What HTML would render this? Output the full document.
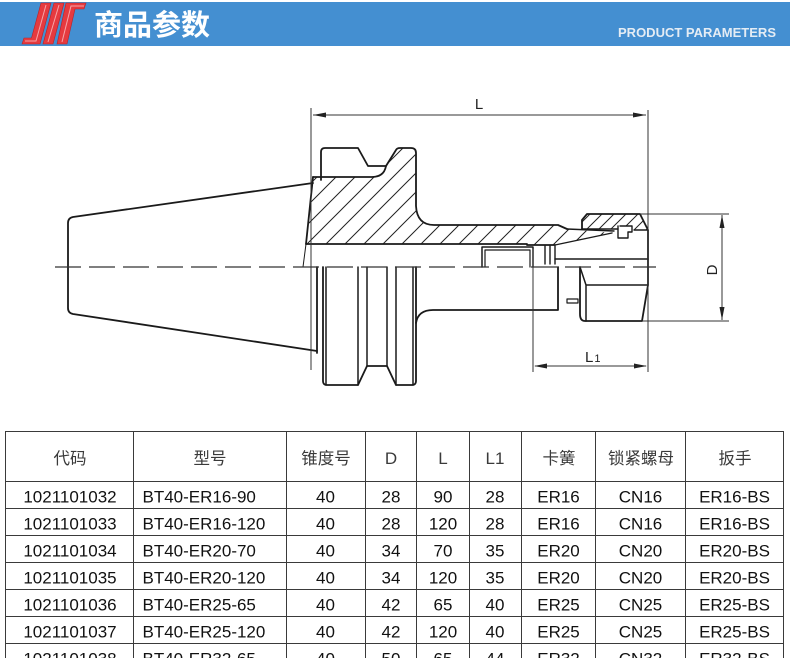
<!DOCTYPE html>
<html><head><meta charset="utf-8">
<style>
html,body{margin:0;padding:0;background:#fff;width:790px;height:658px;overflow:hidden;}
svg{display:block;}
</style></head><body>
<svg width="790" height="658" viewBox="0 0 790 658" xmlns="http://www.w3.org/2000/svg">
<defs>
<pattern id="h" patternUnits="userSpaceOnUse" width="19" height="19">
<path d="M-2,21 L21,-2 M-2,2 L2,-2 M17,21 L21,17" stroke="#222" stroke-width="1"/>
</pattern>
<pattern id="h2" patternUnits="userSpaceOnUse" width="12" height="12">
<path d="M-2,14 L14,-2 M-2,2 L2,-2 M10,14 L14,10" stroke="#222" stroke-width="1"/>
</pattern>
</defs>

<!-- header -->
<rect x="0" y="2" width="790" height="44" fill="#448FD1"/>
<g fill="#E63A3F" stroke="#B82228" stroke-width="0.6">
<polygon points="41,3 51,3 40,44 22,44 24,38 31.5,38"/>
<polygon points="54,3 64,3 53,44 43,44"/>
<polygon points="66,3 86,3 84,9 75,9 67,44 57,44"/>
</g>
<g fill="none" stroke="#F6A5A8" stroke-width="1">
<polyline points="46,5 36,41 25,41"/>
<polyline points="59,5 48,42"/>
<polyline points="84,6 71,6 62,42"/>
</g>
<text x="94" y="35" font-family="'Noto Sans CJK SC','WenQuanYi Zen Hei',sans-serif" font-size="29" font-weight="bold" fill="#ffffff">商品参数</text>
<text x="618" y="37" font-family="'Liberation Sans',sans-serif" font-size="12.5" font-weight="bold" fill="#E4ECF4" textLength="158" lengthAdjust="spacingAndGlyphs">PRODUCT PARAMETERS</text>

<!-- drawing -->
<g fill="none" stroke="#1a1a1a" stroke-width="1.8" stroke-linejoin="round" stroke-linecap="round">
<path d="M313,177 H372 Q384,177 386,166 L396,150 Q397,148 400,148 H411 Q416,148 416,153 V206 Q417,225 434,225 H558 L567,229 L612,233 L555,245 H527 V244 H306 Z" fill="url(#h)" stroke="none"/>
<path d="M582,229 V220 L587,214 H640 L648,230 H634 V226 H620 V229 Z" fill="url(#h2)" stroke="none"/>

<!-- taper -->
<path d="M313,183 L73,217 Q68,218 68,223 L68,308 Q68,313 73,314 L317,351"/>
<path d="M313,177 L306,244" />
<path d="M306,244 L303,267" stroke-width="1"/>
<path d="M317,267 V353"/>

<!-- flange upper -->
<path d="M321,180 V152 Q321,148 325,148 H358 L368,166 H386 L396,150 Q397,148 400,148 H411 Q416,148 416,153 V206 Q417,225 434,225 H558 L567,229"/>
<path d="M313,177 H372 Q384,177 386,166"/>
<path d="M306,244 H527 V245 H555"/>

<!-- flange lower -->
<path d="M323,267 V381 Q323,385 327,385 H358 L367,366 H387 L396,385 H412 Q416,385 416,381 V267"/>
<path d="M326,267 V385 M358,267 V385 M367,267 V366 M387,267 V366 M396,267 V385 M413,267 V385" stroke-width="1.5"/>
<path d="M416,323 Q418,310 433,310 H558 V267"/>

<!-- stop screw -->
<path d="M482,267 V247 H533 V267" stroke-width="1.5"/>
<path d="M485,267 V250 H530 V267" stroke-width="1.2"/>
<path d="M545,246 V264 M550,246 V264 M555,246 V264" stroke-width="1.4"/>

<!-- collet -->
<path d="M555,245 L612,233" stroke-width="1.4"/>
<path d="M567,229 L614,231" stroke-width="1.4"/>
<path d="M555,259 H648" stroke-width="1.5"/>
<rect x="567" y="299" width="11" height="4" stroke-width="1.2"/>

<!-- nut -->
<path d="M582,229 V220 L587,214 H640 L648,230 V285 L642,321 H585 Q580,321 580,314 V267"/>
<path d="M582,229 H618 M634,230 H648" stroke-width="1.4"/>
<path d="M618,226 V238 H628 V232 H632 V226 H620" stroke-width="1.4"/>
<path d="M580,267 L586,285 V321 M586,285 H648" stroke-width="1.5"/>
</g>

<!-- centerline -->
<line x1="55" y1="267" x2="656" y2="267" stroke="#333" stroke-width="1.2" stroke-dasharray="26 8"/>

<!-- dimensions -->
<g stroke="#333" stroke-width="1" fill="none">
<path d="M311,108 V370"/>
<path d="M648,110 V372"/>
<path d="M313,115 H646"/>
<path d="M640,214 H729 M642,321 H729"/>
<path d="M722,215 V320"/>
<path d="M533,249 V372"/>
<path d="M535,366 H646"/>
</g>
<g fill="#222">
<polygon points="313,115 326,112.5 326,117.5"/>
<polygon points="646,115 633,112.5 633,117.5"/>
<polygon points="722,215 719.5,228 724.5,228"/>
<polygon points="722,320 719.5,307 724.5,307"/>
<polygon points="534,366 547,363.5 547,368.5"/>
<polygon points="647,366 634,363.5 634,368.5"/>
</g>
<g font-family="'Liberation Sans',sans-serif" fill="#222">
<text x="479" y="109" font-size="15" text-anchor="middle">L</text>
<text transform="translate(717,270) rotate(-90)" font-size="15" text-anchor="middle">D</text>
<text x="585" y="362" font-size="15">L<tspan font-size="11" dx="1">1</tspan></text>
</g>

<!-- table lines -->
<g stroke="#3a3a3a" stroke-width="1" fill="none">
<path d="M5,431.5 H784 M5,481.5 H784 M5,508.5 H784 M5,535.5 H784 M5,562.5 H784 M5,589.5 H784 M5,616.5 H784 M5,643.5 H784"/>
<path d="M5.5,431 V658 M133.5,431 V658 M286.5,431 V658 M365.5,431 V658 M416.5,431 V658 M469.5,431 V658 M521.5,431 V658 M595.5,431 V658 M685.5,431 V658 M783.5,431 V658"/>
</g>

<!-- table header -->
<g font-family="'Liberation Sans','Noto Sans CJK SC',sans-serif" font-size="16.5" fill="#3a3a3a" text-anchor="middle">
<text x="70" y="464">代码</text>
<text x="210" y="464">型号</text>
<text x="326" y="464">锥度号</text>
<text x="391" y="464" font-size="17">D</text>
<text x="443" y="464" font-size="17">L</text>
<text x="495" y="464" font-size="17">L1</text>
<text x="559" y="464">卡簧</text>
<text x="641" y="464">锁紧螺母</text>
<text x="735" y="464">扳手</text>
</g>

<!-- table body -->
<g font-family="'Liberation Sans',sans-serif" font-size="17" fill="#111">
<g text-anchor="middle">
<text x="70" y="502.5">1021101032</text>
<text x="70" y="529.5">1021101033</text>
<text x="70" y="556.5">1021101034</text>
<text x="70" y="583.5">1021101035</text>
<text x="70" y="610.5">1021101036</text>
<text x="70" y="637.5">1021101037</text>
<text x="70" y="664.5">1021101038</text>
</g>
<g>
<text x="142.5" y="502.5">BT40-ER16-90</text>
<text x="142.5" y="529.5">BT40-ER16-120</text>
<text x="142.5" y="556.5">BT40-ER20-70</text>
<text x="142.5" y="583.5">BT40-ER20-120</text>
<text x="142.5" y="610.5">BT40-ER25-65</text>
<text x="142.5" y="637.5">BT40-ER25-120</text>
<text x="142.5" y="664.5">BT40-ER32-65</text>
</g>
<g text-anchor="middle">
<text x="325.5" y="502.5">40</text><text x="391" y="502.5">28</text><text x="443" y="502.5">90</text><text x="495" y="502.5">28</text><text x="558.5" y="502.5">ER16</text><text x="640.5" y="502.5">CN16</text><text x="734.5" y="502.5">ER16-BS</text>
<text x="325.5" y="529.5">40</text><text x="391" y="529.5">28</text><text x="443" y="529.5">120</text><text x="495" y="529.5">28</text><text x="558.5" y="529.5">ER16</text><text x="640.5" y="529.5">CN16</text><text x="734.5" y="529.5">ER16-BS</text>
<text x="325.5" y="556.5">40</text><text x="391" y="556.5">34</text><text x="443" y="556.5">70</text><text x="495" y="556.5">35</text><text x="558.5" y="556.5">ER20</text><text x="640.5" y="556.5">CN20</text><text x="734.5" y="556.5">ER20-BS</text>
<text x="325.5" y="583.5">40</text><text x="391" y="583.5">34</text><text x="443" y="583.5">120</text><text x="495" y="583.5">35</text><text x="558.5" y="583.5">ER20</text><text x="640.5" y="583.5">CN20</text><text x="734.5" y="583.5">ER20-BS</text>
<text x="325.5" y="610.5">40</text><text x="391" y="610.5">42</text><text x="443" y="610.5">65</text><text x="495" y="610.5">40</text><text x="558.5" y="610.5">ER25</text><text x="640.5" y="610.5">CN25</text><text x="734.5" y="610.5">ER25-BS</text>
<text x="325.5" y="637.5">40</text><text x="391" y="637.5">42</text><text x="443" y="637.5">120</text><text x="495" y="637.5">40</text><text x="558.5" y="637.5">ER25</text><text x="640.5" y="637.5">CN25</text><text x="734.5" y="637.5">ER25-BS</text>
<text x="325.5" y="664.5">40</text><text x="391" y="664.5">50</text><text x="443" y="664.5">65</text><text x="495" y="664.5">44</text><text x="558.5" y="664.5">ER32</text><text x="640.5" y="664.5">CN32</text><text x="734.5" y="664.5">ER32-BS</text>
</g>
</g>
</svg>
</body></html>
